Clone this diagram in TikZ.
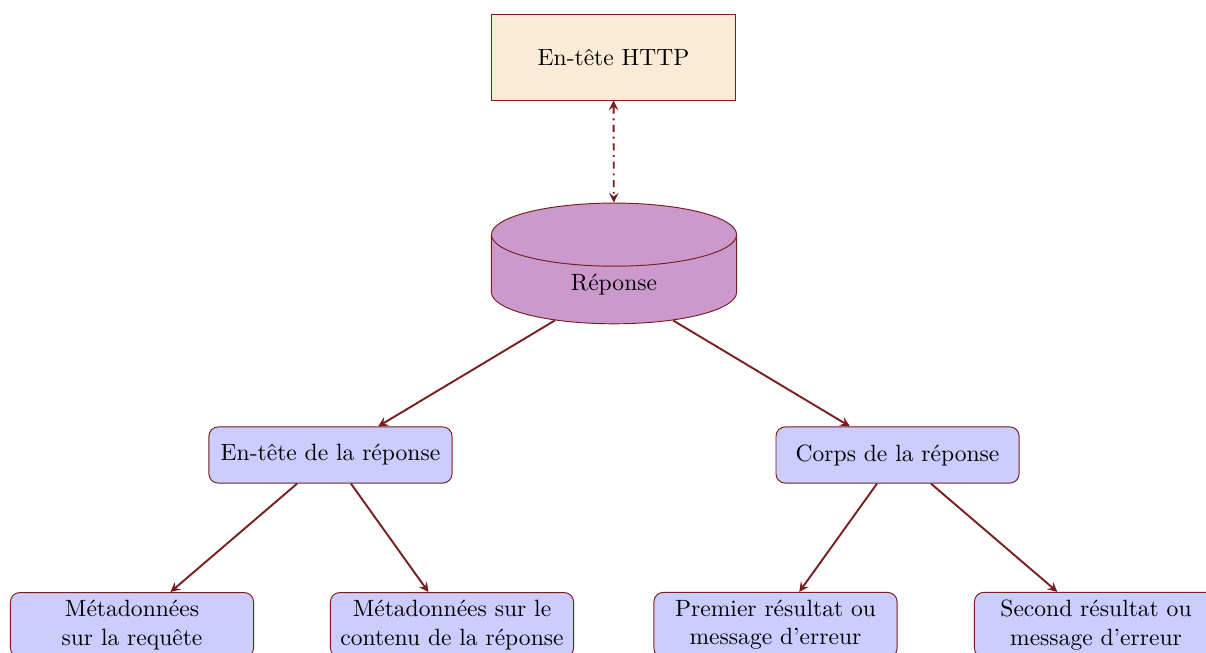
\documentclass[tikz,border=0pt]{standalone}
\usepackage{amsmath}
\usepackage{amssymb}
\usepackage{tikz}
\usetikzlibrary{shapes.geometric}
\definecolor{bordeau}{RGB}{120,28,28}
\definecolor{beige}{RGB}{250,235,215}

\begin{document}
\begin{tikzpicture}
[>=stealth]
\tikzset{rect/.style={draw=bordeau,fill=beige,minimum width=3.63cm,minimum height=1.27cm}}
\tikzset{boite/.style={draw=bordeau,fill=blue!20,rounded corners=4pt,minimum width=3.63cm,minimum height=.84cm,align=center}}
\tikzset{cyl/.style={cylinder,shape border rotate=90,aspect=.62,draw=bordeau,fill=violet!40,minimum width=3.66cm,minimum height=1.76cm}}
\tikzset{fleche/.style={->,draw=bordeau,thick}}
\useasboundingbox (0,0) rectangle (18.005,-9.749);
\node [rect] (http) at (9.159,-.858) {En-tête HTTP};
\node [cyl] (rep) at (9.167,-4.255) {Réponse};
\node [boite] (tete) at (4.934,-6.793) {En-tête de la réponse};
\node [boite] (corps) at (13.4,-6.793) {Corps de la réponse};
\node [boite] (meta1) at (1.971,-9.331) {Métadonnées\\sur la requête};
\node [boite] (meta2) at (6.748,-9.331) {Métadonnées sur le\\contenu de la réponse};
\node [boite] (res1) at (11.578,-9.331) {Premier résultat ou\\message d'erreur};
\node [boite] (res2) at (16.363,-9.331) {Second résultat ou\\message d'erreur};

\draw [fleche,<->,dash dot] (http) -- (rep);
\foreach \from/\to in {rep/tete,rep/corps,tete/meta1,tete/meta2,corps/res1,corps/res2}
	\draw [fleche] (\from) -- (\to);

\end{tikzpicture}
\end{document}
